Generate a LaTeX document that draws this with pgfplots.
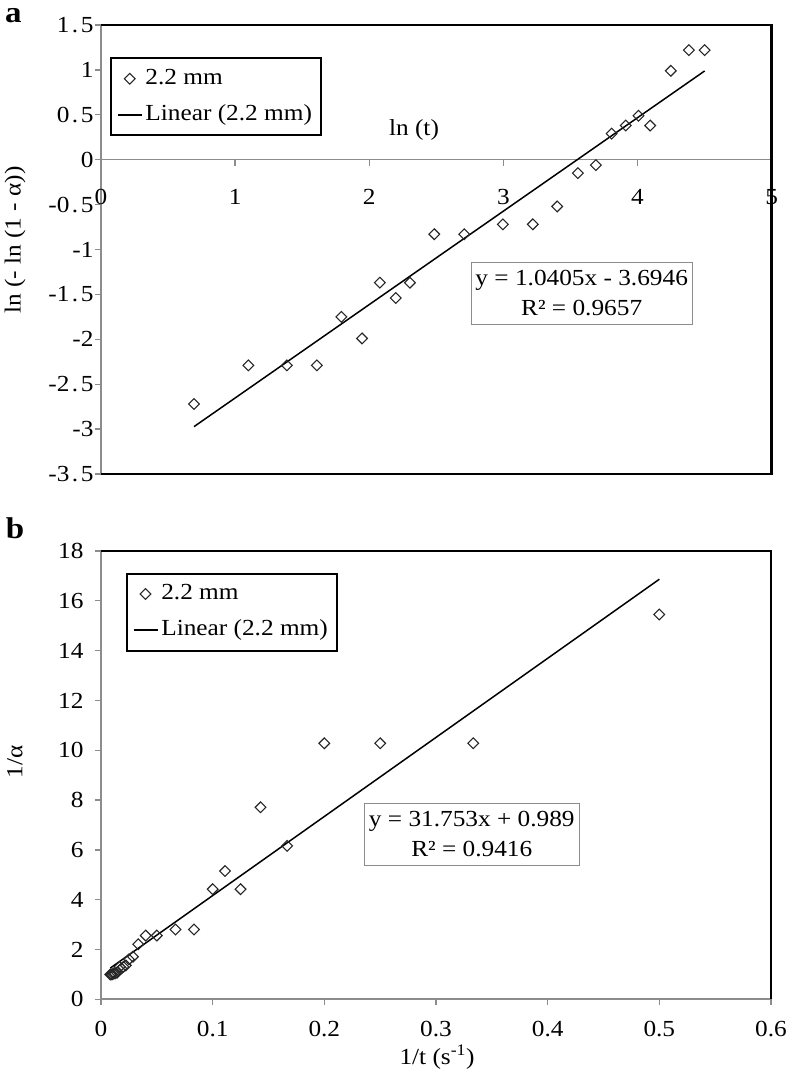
\documentclass[border=0pt]{standalone}
\usepackage{pgfplots}
\pgfplotsset{compat=1.18}
\usepackage{fontspec}
\setmainfont{Liberation Serif}[FakeStretch=1.1]
\newcommand\ff{\fontsize{23}{30}\selectfont}
\newcommand\dk[2]{#1\kern2.5pt.\kern2.5pt#2}
\definecolor{axgray}{gray}{0.55}
\pgfplotstableread{
x y
0.693 -2.72
1.099 -2.29
1.386 -2.29
1.609 -2.29
1.792 -1.75
1.946 -1.99
2.079 -1.37
2.197 -1.54
2.303 -1.37
2.485 -0.83
2.708 -0.83
2.996 -0.72
3.219 -0.72
3.401 -0.52
3.555 -0.15
3.689 -0.06
3.807 0.29
3.912 0.38
4.007 0.49
4.094 0.38
4.248 0.99
4.382 1.22
4.500 1.22
}\dataA
\pgfplotstableread{
x y
0.5 15.45
0.3333 10.28
0.25 10.28
0.2 10.28
0.1667 6.16
0.1429 7.71
0.125 4.42
0.1111 5.15
0.1 4.42
0.0833 2.80
0.0667 2.80
0.05 2.56
0.04 2.56
0.0333 2.21
0.0286 1.71
0.025 1.60
0.0222 1.36
0.02 1.30
0.0182 1.24
0.0167 1.30
0.0143 1.07
0.0125 1.035
0.0111 1.035
0.0100 1.0
0.0091 1.0
0.0083 1.0
}\dataB
\pgfplotsset{
  mystyle/.style={
    scale only axis, anchor=south west, clip=false,
    axis line style={draw=axgray, line width=1.6pt, -},
    tick style={draw=axgray, line width=1.3pt},
    major tick length=6pt,
    tick align=outside,
    ticklabel style={font=\ff},
    /pgf/number format/assume math mode=true,
    legend cell align=left,
    legend image code/.code={\draw[mark repeat=2,mark phase=2,#1] plot coordinates {(0pt,0pt) (12pt,0pt) (24pt,0pt)};},
    legend style={draw=black, line width=2pt, font=\ff, inner xsep=6pt, inner ysep=7pt, row sep=9pt,
      nodes={inner sep=3pt, text height=16pt, text depth=5pt}},
  },
  datastyle/.style={only marks, mark=square, mark size=3.8pt,
    mark options={rotate=45, draw=black!85, fill=white, line width=1.1pt, solid}},
  fitstyle/.style={no marks, black, line width=1.5pt},
}
\begin{document}
\begin{tikzpicture}
\useasboundingbox (0,0) rectangle (788pt,1078pt);
% Panel a
\begin{axis}[mystyle,
  at={(101pt,604pt)}, width=670.7pt, height=449pt,
  xmin=0, xmax=5, ymin=-3.5, ymax=1.5,
  axis x line*=middle, axis y line*=left,
  hide obscured x ticks=false, hide obscured y ticks=false,
  xtick={0,1,2,3,4,5}, xticklabels={0,1,2,3,4,5},
  ytick={-3.5,-3,-2.5,-2,-1.5,-1,-0.5,0,0.5,1,1.5},
  yticklabels={\dk{-3}{5},-3,\dk{-2}{5},-2,\dk{-1}{5},-1,\dk{-0}{5},0,\dk{0}{5},1,\dk{1}{5}},
  xticklabel style={yshift=-20pt},
  yticklabel style={xshift=2pt},
  legend style={at={(0.0134,0.928)}, anchor=north west},
]
\draw[black, line width=2.5pt] (rel axis cs:0,1) -- (rel axis cs:1,1) -- (rel axis cs:1,0) -- (rel axis cs:0,0);
\addplot[datastyle] table[x=x,y=y] {\dataA};
\addlegendentry{2.2 mm}
\addplot[fitstyle] coordinates {(0.693,-2.973) (4.500,0.988)};
\addlegendentry{Linear (2.2 mm)}
\end{axis}
% Panel b
\begin{axis}[mystyle,
  at={(101pt,78.7pt)}, width=670pt, height=448.3pt,
  xmin=0, xmax=0.6, ymin=0, ymax=18,
  axis x line*=bottom, axis y line*=left,
  xtick={0,0.1,0.2,0.3,0.4,0.5,0.6}, xticklabels={0,0.1,0.2,0.3,0.4,0.5,0.6},
  ytick={0,2,...,18}, yticklabels={0,2,4,6,8,10,12,14,16,18},
  xticklabel style={yshift=-12pt},
  yticklabel style={xshift=-8pt},
  legend style={at={(0.037,0.952)}, anchor=north west},
]
\draw[black, line width=2.5pt] (rel axis cs:0,1) -- (rel axis cs:1,1) -- (rel axis cs:1,0);
\addplot[datastyle] table[x=x,y=y] {\dataB};
\addlegendentry{2.2 mm}
\addplot[fitstyle] coordinates {(0.0083,1.253) (0.5,16.866)};
\addlegendentry{Linear (2.2 mm)}
\end{axis}
% labels
\node[font=\fontsize{30}{30}\selectfont\bfseries, inner sep=0pt] at (13.5pt,1062pt) {a};
\node[font=\fontsize{30}{30}\selectfont\bfseries, inner sep=0pt] at (15pt,550pt) {b};
\node[font=\ff, rotate=90, inner sep=0pt] at (15pt,838pt) {ln (- ln (1 - α))};
\node[font=\ff, inner sep=0pt] at (414pt,948pt) {ln (t)};
\node[font=\ff, rotate=90, inner sep=0pt] at (15pt,316pt) {1/α};
\node[font=\ff, inner sep=0pt] at (437pt,21.3pt) {1/t (s\textsuperscript{-1})};
\node[font=\ff, draw=axgray, line width=1pt, align=center, minimum width=221pt, minimum height=61.7pt, inner sep=0pt] at (581.7pt,784.8pt) {y = 1.0405x - 3.6946\\R² = 0.9657};
\node[font=\ff, draw=axgray, line width=1pt, align=center, minimum width=215pt, minimum height=61.7pt, inner sep=0pt] at (471.8pt,243.8pt) {y = 31.753x + 0.989\\R² = 0.9416};
\end{tikzpicture}
\end{document}
